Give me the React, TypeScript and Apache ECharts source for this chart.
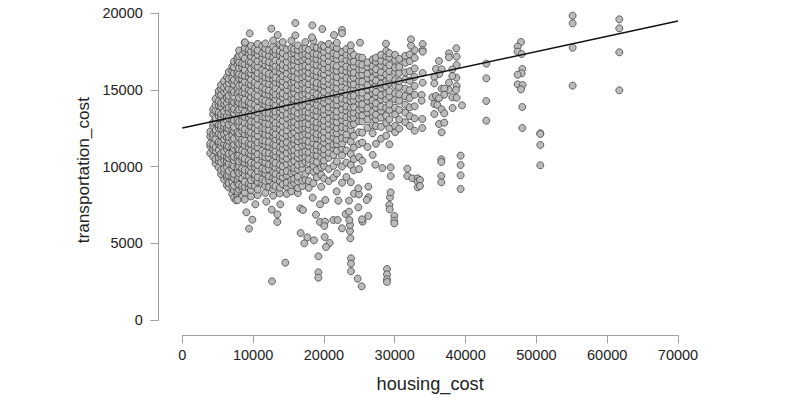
import React, { useEffect, useRef } from "react";
import * as echarts from "echarts";

const xTicksMax = 70000;
const yTicksMax = 20000;
const xLabel = "housing_cost";
const yLabel = "transportation_cost";
const trendLine = [[0, 12510], [70000, 19480]];

const cloudX = [3950,4350,4700,5150,5480,5900,6300,6560,7050,7300,7800,8020,8450,8820,9380,9700,10250,10640,11300,11720,12240,12830,13160,13780,14190,14760,15400,15790,16320,16950,17380,17860,18510,18990,19620,20010,20680,21340,21820,22560,23170,23790,24220,24950,25420,26150,26880,27350,28060,28790,29240,30050,30630,31480,32120,32810];

const cloudY = [
[10870,11340,11510,11960,12280],
[10640,11120,11430,11890,12130,12640,12870,13410,13720],
[10210,10490,11030,11280,11790,12210,12380,12930,13170,13660,14020,14410],
[9940,10360,10580,11090,11470,11620,12150,12520,12710,13290,13540,13980,14260,14720,14930],
[9510,9760,10290,10670,10830,11360,11580,12040,12490,12680,13210,13430,13920,14150,14680,15070,15320],
[9160,9630,9870,10410,10720,11010,11490,11780,12110,12590,12820,13350,13610,14090,14330,14860,15150,15570],
[8780,9270,9420,9950,10360,10610,11140,11360,11890,12240,12510,13020,13280,13790,14120,14470,14910,15290,15820],
[8640,8930,9410,9720,10180,10570,10840,11310,11690,11930,12460,12730,13160,13580,13840,14370,14620,15060,15430,15710,16160],
[8230,8690,9040,9330,9860,10110,10590,10880,11260,11720,12030,12390,12840,13090,13620,13910,14280,14730,14980,15510,15760,16230,16520],
[7970,8480,8760,9250,9530,10020,10410,10650,11170,11440,11830,12310,12580,13010,13470,13750,14190,14560,14860,15340,15650,16080,16480,16840],
[8120,8380,8910,9190,9670,9980,10490,10730,11210,11560,12070,12260,12790,13100,13590,14010,14240,14770,15090,15480,15860,16110,16650,16910,17130],
[8510,8820,9310,9590,10040,10330,10780,11120,11490,11910,12170,12680,12950,13410,13720,14160,14490,14890,15270,15740,16020,16430,16790,17210,17560],
[8060,8570,8740,9240,9650,9880,10390,10620,11060,11520,11740,12290,12560,12980,13320,13810,14080,14630,14840,15320,15690,15950,16480,16720,17260],
[7860,8310,8680,9010,9480,9790,10250,10510,10950,11380,11690,12120,12430,12860,13240,13570,14070,14360,14810,15120,15520,15910,16290,16680,17040,17520,17740,18080],
[8640,8890,9410,9730,10150,10420,10870,11260,11530,12060,12280,12740,13190,13450,13960,14210,14680,15010,15390,15830,16110,16590,16850,17360,17620],
[8060,8480,8800,9120,9620,10010,10260,10790,11070,11480,11840,12210,12650,12930,13380,13810,14110,14520,14890,15340,15650,16060,16340,16810,17180,17490,17870],
[8720,9230,9470,9960,10210,10670,11020,11350,11790,12130,12490,12890,13320,13610,14030,14440,14710,15210,15480,15890,16320,16590,17020,17430,17690],
[8150,8510,9020,9310,9720,10110,10480,10810,11260,11570,12010,12360,12730,13110,13540,13830,14290,14600,15030,15320,15780,16090,16510,16860,17290,17580,17990],
[8910,9170,9640,9880,10360,10690,11040,11480,11720,12240,12510,12990,13260,13670,14110,14360,14840,15160,15590,15920,16280,16730,17060,17380,17840],
[8290,8730,9080,9540,9810,10270,10630,10920,11390,11680,12090,12460,12810,13230,13520,14020,14290,14730,15050,15460,15820,16170,16630,16910,17330,17690,18020],
[8660,9120,9370,9850,10140,10590,10880,11310,11610,12040,12390,12760,13180,13490,13920,14180,14680,14970,15370,15760,16040,16520,16810,17230,17570],
[8110,8530,8820,9290,9610,10060,10370,10790,11160,11460,11930,12240,12650,13020,13410,13760,14130,14570,14860,15260,15660,15970,16440,16700,17120,17490,17800,18210],
[8740,9200,9530,9950,10240,10690,11010,11390,11780,12110,12530,12840,13290,13580,13990,14380,14690,15110,15480,15790,16230,16560,16920,17340,17610],
[8260,8630,9060,9390,9810,10120,10540,10900,11250,11690,11960,12410,12770,13100,13550,13860,14260,14620,14940,15390,15680,16130,16440,16810,17240,17510,17950],
[8850,9320,9640,10020,10460,10710,11170,11480,11890,12210,12610,12980,13360,13720,14060,14510,14770,15230,15560,15890,16360,16620,17070,17390,17780,18110],
[8230,8690,8970,9430,9710,10160,10530,10880,11300,11590,12020,12370,12720,13170,13440,13880,14220,14590,15000,15310,15740,16060,16470,16820,17200,17630],
[8390,8810,9140,9580,9960,10240,10690,11040,11390,11820,12100,12560,12880,13290,13640,13980,14430,14730,15170,15460,15880,16270,16590,17010,17360,17720,18190],
[8940,9210,9680,9910,10370,10740,11080,11510,11780,12240,12590,12910,13330,13620,14100,14390,14800,15120,15530,15830,16240,16630,16950,17410,17650],
[8280,8610,9040,9350,9810,10120,10580,10860,11270,11660,11980,12420,12730,13190,13470,13900,14270,14590,15040,15320,15730,16110,16460,16880,17180,17600,17890],
[8740,9090,9860,10190,10620,10930,11360,11710,12050,12490,12810,13230,13560,13970,14340,14680,15110,15400,15820,16170,16520,16930,17280,17660],
[9140,9540,10290,10650,10980,11420,11730,12130,12520,12830,13280,13590,14030,14370,14760,15090,15490,15880,16240,16570,17020,17340,17710,18110],
[8620,9060,9760,10220,10510,10930,11350,11620,12080,12410,12750,13190,13520,13880,14290,14640,15010,15370,15780,16090,16480,16890,17230,17590],
[8920,9660,10040,10390,10780,11110,11540,11860,12260,12620,12950,13400,13710,14140,14460,14830,15230,15540,15970,16290,16690,17080,17360,17810,18200],
[9310,9780,10310,10730,11090,11390,11860,12120,12560,12880,13290,13640,14010,14420,14710,15180,15450,15880,16200,16610,16990,17320,17740],
[8690,9470,9950,10560,10990,11280,11710,12060,12410,12830,13120,13560,13890,14310,14610,15040,15360,15790,16090,16520,16880,17230,17660,17920],
[9230,10040,10400,10810,11130,11570,11860,12280,12650,13000,13420,13710,14180,14490,14860,15290,15570,16010,16340,16740,17090,17470,17820],
[9060,9850,10580,10920,11290,11710,12020,12440,12800,13130,13590,13860,14300,14620,15010,15390,15720,16170,16460,16860,17240,17590,17990],
[9280,10050,10760,11180,11450,11890,12210,12640,12980,13310,13760,14040,14480,14770,15190,15540,15910,16320,16630,17070,17380,17810],
[9560,10340,11030,11470,11740,12180,12510,12890,13270,13590,14030,14330,14760,15090,15480,15830,16240,16560,16990,17290,17720,18060],
[8950,10010,10740,11180,11510,11870,12290,12580,13030,13340,13720,14140,14430,14870,15210,15570,15980,16290,16720,17030,17460],
[9330,10260,11050,11800,12090,12510,12860,13220,13640,13930,14360,14690,15060,15480,15770,16210,16520,16930,17280,17660],
[8990,10110,10820,11630,12390,12710,13150,13460,13840,14250,14590,14970,15380,15690,16120,16430,16840,17200,17530,17900],
[9760,10490,11240,12010,12770,13190,13510,13880,14300,14620,15060,15350,15790,16110,16540,16840,17270],
[9840,10620,11470,12240,12960,13370,13690,14110,14440,14820,15200,15570,15960,16320,16710,17120],
[10380,11570,12210,12940,13330,13790,14060,14520,14810,15260,15530,15990,16340,16630,17090],
[11280,12530,13090,13520,13810,14290,14560,15020,15310,15760,16050,16500,16780],
[10760,12170,12700,13260,13580,14040,14310,14770,15060,15490,15790,16240,16530,16980],
[11490,12640,13080,13390,13840,14120,14590,14860,15310,15600,16070,16340,16830,17090],
[11820,12590,13190,13630,13910,14380,14660,15120,15400,15870,16150,16590,16890,17280],
[12010,12840,13310,13820,14370,14750,15220,15560,15990,16410,16800,17170,17530],
[11450,12490,13070,13690,14060,14570,14920,15460,15780,16220,16610,17090,17380],
[12240,12660,13410,13840,14390,14760,15280,15630,16160,16450,16940,17280],
[12480,13070,13690,14290,14710,15210,15570,16100,16490,17010],
[12890,13510,14040,14590,15080,15680,16140,16760,17210],
[12650,13290,13860,14470,14980,15590,16200,16870,17310],
[12340,13140,13930,14680,15250,15840,16390,17080,17590],
];

const sparseX = [12667,14550,19210,19210,19210,23822,23822,23822,24763,25328,28905,28905,28905,28905,16714,17656,17233,18597,20104,20810,20292,23728,23681,23681,22551,23586,9419,9889,13420,13420,9042,12620,7583,7818,10313,11866,13843,16667,17043,18879,19445,20150,20056,21327,21939,23069,23540,25469,25375,26270,24858,23540,22034,20198,19445,18409,21799,24246,24952,24858,26270,26270,26034,29329,29423,29235,29282,29941,29941,29941,27258,28247,29423,29423,31777,31777,32483,33236,33236,33236,55121,55121,55121,55121,61710,61710,61710,61710,47825,47355,47355,47920,48013,47920,47355,47355,48060,47825,48013,48013,50555,50555,50555,50555,42930,42930,42930,42930,39305,39305,39305,39305,36575,36575,36575,36575,33563,33563,38694,38741,38741,38129,38694,38741,38646,38129,38741,38176,39494,37658,37658,36246,35822,36623,36293,35587,35587,38129,37658,37658,36623,37000,37000,35305,35822,36246,35587,36010,36623,37000,35587,36246,37000,36623,33940,33940,33940,33940,33940,33798,33798,33892,33892,15962,12572,9513,18362,19774,22551,22551,21421,13467,8854,15962,18315,25093,28765,32295,32295];

const sparseY = [2537,3752,4163,3122,2775,4033,3687,3188,2710,2211,3340,2992,2667,2493,5682,5400,5010,5205,5422,5031,4771,5335,5812,6203,5985,6528,5964,6550,6398,6896,7027,7200,7808,7829,7547,7721,7547,7287,7178,6875,6398,6420,6137,6528,6528,6918,7070,6420,6571,6788,7352,7786,7786,7829,7547,7981,8393,8241,8198,8588,8697,8003,7829,8003,8328,7504,7222,6788,6484,6311,10128,9911,9391,9955,9868,9391,9239,9239,9022,8653,19826,19327,17743,15271,19587,19001,17440,14967,18112,17808,17483,17331,16355,16073,15986,15357,15314,15032,13883,12516,12169,12126,11410,10087,16702,15748,14273,12993,10716,10108,9436,8547,10477,10304,9393,8980,9132,8742,17700,17158,16615,16333,15791,15249,14989,14511,14490,13817,13991,17375,17114,16876,16355,16333,16030,15835,15422,15900,15466,14989,15075,15075,14685,14511,14598,14446,14078,14013,13731,13470,13427,12776,12863,12234,17982,17592,17483,16095,15466,14663,14295,13102,12516,19348,18980,18676,19197,18958,18893,18676,18567,18567,18090,18546,18416,18069,18004,18285,17873];

const points: number[][] = [];
cloudX.forEach((x, i) => cloudY[i].forEach((y) => points.push([x, y])));
sparseX.forEach((x, i) => points.push([x, sparseY[i]]));

const FONT = "Liberation Sans";
const AXIS_GRAY = "#a0a0a0";
const TEXT = "#222";

export default function App() {
  const ref = useRef<HTMLDivElement>(null);
  useEffect(() => {
    const chart = echarts.init(ref.current!, undefined, { renderer: "svg" });
    const axisCommon = {
      type: "value",
      splitLine: { show: false },
      axisLine: { show: true, onZero: false, lineStyle: { color: AXIS_GRAY, width: 1 } },
      axisTick: { show: true, length: 8, lineStyle: { color: AXIS_GRAY, width: 1 } },
      nameLocation: "middle",
    };
    chart.setOption({
      animation: false,
      backgroundColor: "#fff",
      grid: { left: 182.3, top: 13, width: 495.7, height: 307.3, containLabel: false },
      xAxis: {
        ...axisCommon,
        min: 0,
        max: xTicksMax,
        interval: 10000,
        position: "bottom",
        offset: 15,
        name: xLabel,
        nameGap: 40,
        nameTextStyle: { fontFamily: FONT, fontSize: 18.2, color: TEXT },
        axisLabel: { fontFamily: FONT, fontSize: 14.5, color: TEXT, margin: 12, formatter: (v: number) => String(v) },
      },
      yAxis: {
        ...axisCommon,
        min: 0,
        max: yTicksMax,
        interval: 5000,
        position: "left",
        offset: 24,
        name: yLabel,
        nameGap: 66,
        nameTextStyle: { fontFamily: FONT, fontSize: 17.2, color: TEXT, padding: [0, 7, 0, 0] },
        axisLabel: { fontFamily: FONT, fontSize: 14.5, color: TEXT, margin: 15.5, formatter: (v: number) => String(v) },
      },
      series: [
        {
          type: "scatter",
          data: points,
          symbol: "circle",
          symbolSize: 7,
          itemStyle: { color: "#bbbbbb", borderColor: "#444444", borderWidth: 0.8, opacity: 1 },
          silent: true,
          z: 2,
        },
        {
          type: "line",
          data: trendLine,
          symbol: "none",
          lineStyle: { color: "#111", width: 1.5 },
          silent: true,
          z: 3,
        },
      ],
    });
    return () => chart.dispose();
  }, []);
  return <div ref={ref} style={{ position: "absolute", left: 0, top: 0, width: 800, height: 400 }} />;
}
